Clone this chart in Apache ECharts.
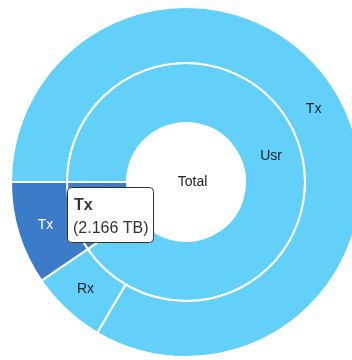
<!DOCTYPE html>
<html>
<head>
<meta charset="utf-8">
<style>
  html, body { margin: 0; padding: 0; background: #ffffff; }
  #chart { width: 352px; height: 360px; }
</style>
<script src="https://cdn.jsdelivr.net/npm/echarts@6/dist/echarts.min.js"></script>
</head>
<body>
<div id="chart"></div>
<script>
// Traffic breakdown (TB): total -> group -> direction
const rootName = 'Total';
const groupNames = ['Usr', 'Sys'];
const leafNames = [['Tx', 'Rx'], ['Tx']];
const leafValues = [[18.97, 1.59], [2.166]];
const unit = 'TB';

// the selected leaf (group index, leaf index) shown in the info box
const selected = [1, 0];

const LIGHT = '#62d0f9';
const DARK = '#3b7bc8';
const FONT = '"Liberation Sans", Arial, sans-serif';

function isSelectedGroup(g) { return g === selected[0]; }

const groups = groupNames.map(function (gName, g) {
  const sel = isSelectedGroup(g);
  return {
    name: gName,
    itemStyle: { color: sel ? DARK : LIGHT },
    label: { show: !sel },
    children: leafNames[g].map(function (lName, i) {
      const hot = sel && i === selected[1];
      return {
        name: lName,
        value: leafValues[g][i],
        itemStyle: { color: hot ? DARK : LIGHT },
        label: { color: hot ? '#ffffff' : '#222222' }
      };
    })
  };
});

const data = [{
  name: rootName,
  itemStyle: { color: '#ffffff' },
  // pull the centre label back toward the middle of the disc
  label: { padding: [5, 46, 0, 0] },
  children: groups
}];

const selName = leafNames[selected[0]][selected[1]];
const selValue = leafValues[selected[0]][selected[1]];

const chart = echarts.init(document.getElementById('chart'), null, { renderer: 'canvas' });
chart.setOption({
  backgroundColor: '#ffffff',
  animation: false,
  series: [{
    type: 'sunburst',
    center: [186, 182],
    radius: [0, 175],
    startAngle: 180,
    nodeClick: false,
    emphasis: { disabled: true },
    data: data,
    itemStyle: { borderColor: '#ffffff', borderWidth: 2 },
    label: {
      rotate: 0,
      fontSize: 14,
      fontFamily: FONT,
      color: '#222222'
    },
    levels: [
      {},
      { r0: 0, r: 59, label: { color: '#222222' } },
      { r0: 59, r: 119 },
      { r0: 119, r: 175 }
    ]
  }],
  // info box for the selected leaf
  graphic: {
    elements: [
      {
        type: 'rect',
        z: 100,
        shape: { x: 67.5, y: 187.5, width: 86, height: 55, r: 4 },
        style: { fill: '#ffffff', stroke: '#333333', lineWidth: 1 }
      },
      {
        type: 'text',
        z: 101,
        x: 74,
        y: 198,
        style: {
          text: selName,
          font: 'bold 16px ' + FONT,
          fill: '#333333',
          verticalAlign: 'top'
        }
      },
      {
        type: 'text',
        z: 101,
        x: 73,
        y: 221,
        style: {
          text: '(' + selValue + ' ' + unit + ')',
          font: '16px ' + FONT,
          fill: '#333333',
          verticalAlign: 'top'
        }
      }
    ]
  }
});
</script>
</body>
</html>
